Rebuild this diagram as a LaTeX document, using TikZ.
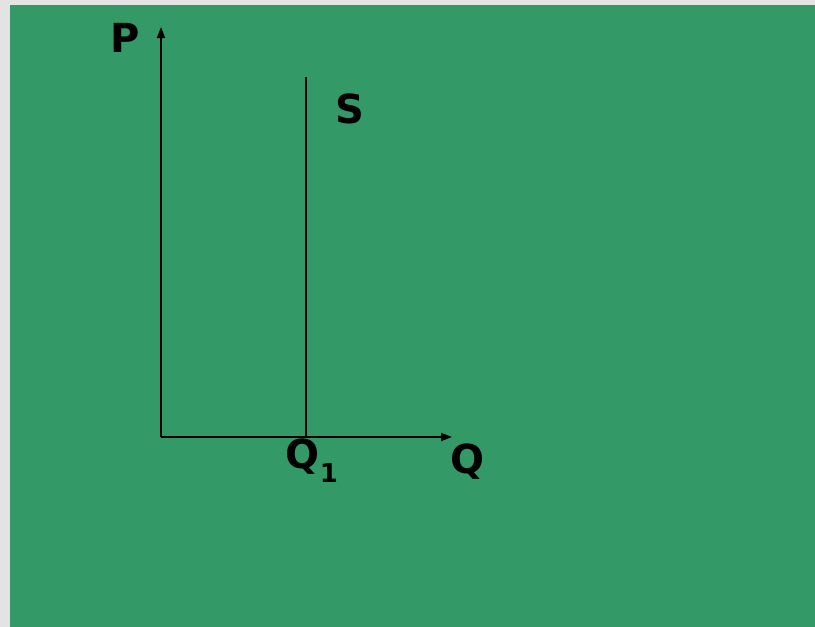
\documentclass[tikz,border=0pt]{standalone}
\usepackage{fontspec}
\setmainfont{DejaVu Sans}
\usetikzlibrary{arrows.meta}
\definecolor{bggreen}{HTML}{339966}
\definecolor{bggray}{HTML}{E3E3E3}
\tikzset{
  axis/.style={line width=1.8pt, -{Triangle[length=11pt,width=8pt]}},
  curve/.style={line width=1.8pt},
  lbl/.style={inner sep=0pt, anchor=base, font=\bfseries\fontsize{40}{40}\selectfont},
  sublbl/.style={inner sep=0pt, anchor=base, font=\bfseries\fontsize{26}{26}\selectfont}
}
\begin{document}
\begin{tikzpicture}[x=1pt,y=-1pt]
\useasboundingbox (0,0) rectangle (815,627);
\fill[bggray] (0,0) rectangle (815,627);
\fill[bggreen] (10,5) rectangle (815,627);
\coordinate (O) at (161,437);
\coordinate (Ptop) at (161,27);
\coordinate (Qend) at (452,437);
\coordinate (Stop) at (306,77);
\coordinate (Sbot) at (306,437);
\draw[axis] (O) -- (Ptop);
\draw[axis] (O) -- (Qend);
\draw[curve] (Stop) -- (Sbot);
\node[lbl] (P) at (125,52) {P};
\node[lbl] (S) at (350,123) {S};
\node[lbl] (Q) at (467,473) {Q};
\node[lbl] (Q1) at (303,468) {Q};
\node[sublbl] (Q1sub) at (329,482) {1};
\end{tikzpicture}
\end{document}
